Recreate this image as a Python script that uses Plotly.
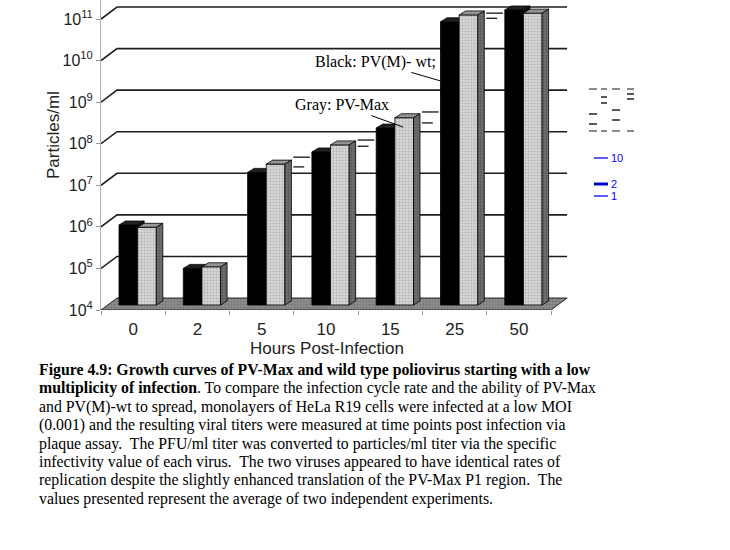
import numpy as np
import plotly.graph_objects as go

# --- data ---
hours = ['0', '2', '5', '10', '15', '25', '50']
pv_wt = [8.4e5, 7.6e4, 1.55e7, 4.8e7, 1.8e8, 6.5e10, 1.25e11]    # black bars
pv_max = [7.4e5, 8.3e4, 2.45e7, 7.1e7, 3.2e8, 9.5e10, 1.05e11]   # gray bars
err_hi = [None, None, 3.6e7, 9.3e7, 4.4e8, 1.05e11, None]
err_lo = [None, None, 2.1e7, 6.6e7, 2.4e8, 7.9e10, None]
y_tickvals = [1e4, 1e5, 1e6, 1e7, 1e8, 1e9, 1e10, 1e11]
y_ticktext = ['10<sup>%d</sup>' % k for k in range(4, 12)]

caption = [
    '<b>Figure 4.9: Growth curves of PV-Max and wild type poliovirus starting with a low</b>',
    '<b>multiplicity of infection</b>. To compare the infection cycle rate and the ability of PV-Max',
    'and PV(M)-wt to spread, monolayers of HeLa R19 cells were infected at a low MOI',
    '(0.001) and the resulting viral titers were measured at time points post infection via',
    'plaque assay.  The PFU/ml titer was converted to particles/ml titer via the specific',
    'infectivity value of each virus.  The two viruses appeared to have identical rates of',
    'replication despite the slightly enhanced translation of the PV-Max P1 region.  The',
    'values presented represent the average of two independent experiments.',
]

SANS = 'Liberation Sans, Arial, sans-serif'
SERIF = 'Liberation Serif, Times New Roman, serif'

# --- plot geometry (pixels of the 730x550 page) ---
L, R, T, B = 101, 570, 0, 310
CAT = 64.3      # px per category
DEC = 41.57     # px per decade
x_range = [-0.5, -0.5 + (R - L) / CAT]
y_range = [4, 4 + (B - T) / DEC]
DX, DY = 16 / CAT, 12 / DEC      # depth of floor / back grid
BX, BY = 4.5 / CAT, 5 / DEC      # front plane of the bars
SX, SY = 6.5 / CAT, 4 / DEC      # thickness of the bars
W = 0.29


def px_x(p):
    return (p - L) / (R - L)


def px_y(p):
    return (B - p) / (B - T)


def collect(polys):
    xs, ys = [], []
    for px, pe in polys:
        xs += px + [None]
        ys += [10 ** e for e in pe] + [None]
    return xs, ys


def face_trace(polys, color, dots):
    xs, ys = collect(polys)
    return go.Scatter(
        x=xs, y=ys, mode='lines', fill='toself', fillcolor=color,
        fillpattern=dict(shape='.', bgcolor=color, fgcolor=dots, size=3, solidity=0.35),
        line=dict(color='black', width=0.8), hoverinfo='skip', showlegend=False)


def bar_faces(x0, x1, v):
    e0 = 4 + BY
    e1 = np.log10(v) + BY
    front = ([x0, x1, x1, x0, x0], [e0, e0, e1, e1, e0])
    top = ([x0, x1, x1 + SX, x0 + SX, x0], [e1, e1, e1 + SY, e1 + SY, e1])
    side = ([x1, x1 + SX, x1 + SX, x1, x1], [e0, e0 + SY, e1 + SY, e1, e0])
    return front, top, side


fig = go.Figure()

# back grid lines (one per decade), running in from the front axis
for k in range(5, 12):
    fig.add_trace(go.Scatter(
        x=[-0.5, -0.5 + DX, 6.5 + DX], y=[10 ** k, 10 ** (k + DY), 10 ** (k + DY)],
        mode='lines', line=dict(color='#1e1e1e', width=1.6),
        hoverinfo='skip', showlegend=False))

# floor
fig.add_trace(face_trace([([-0.5, 6.5, 6.5 + DX, -0.5 + DX, -0.5], [4, 4, 4 + DY, 4 + DY, 4])],
                         '#8e8e8e', '#5a5a5a'))

blk = {'front': [], 'top': [], 'side': []}
gry = {'front': [], 'top': [], 'side': []}
for i in range(len(hours)):
    f, t, s = bar_faces(i - W + BX, i + BX, pv_wt[i])
    blk['front'].append(f); blk['top'].append(t); blk['side'].append(s)
    f, t, s = bar_faces(i + BX, i + W + BX, pv_max[i])
    gry['front'].append(f); gry['top'].append(t); gry['side'].append(s)

fig.add_trace(face_trace(blk['side'], '#111111', '#111111'))
fig.add_trace(face_trace(blk['front'], '#000000', '#000000'))
fig.add_trace(face_trace(blk['top'], '#202020', '#202020'))
fig.add_trace(face_trace(gry['front'], '#d6d6d6', '#8f8f8f'))
fig.add_trace(face_trace(gry['top'], '#9c9c9c', '#6a6a6a'))
fig.add_trace(face_trace(gry['side'], '#6e6e6e', '#3c3c3c'))

# error marks to the right of the gray bars
ex, ey = [], []
for i in range(len(hours)):
    if err_hi[i] is None:
        continue
    x0 = i + W + BX + SX + 0.03
    ex += [x0, x0 + 0.26, None, x0, x0 + 0.17, None]
    ey += [10 ** (np.log10(err_hi[i]) + BY)] * 2 + [None]
    ey += [10 ** (np.log10(err_lo[i]) + BY)] * 2 + [None]
fig.add_trace(go.Scatter(x=ex, y=ey, mode='lines', line=dict(color='black', width=1.2),
                         hoverinfo='skip', showlegend=False))

annotations = [
    dict(text='Particles/ml', xref='paper', yref='paper', x=px_x(54), y=px_y(135),
         xanchor='center', yanchor='middle',
         textangle=-90, showarrow=False, font=dict(family=SANS, size=17, color='#222')),
    dict(text='Hours Post-Infection', xref='paper', yref='paper', x=px_x(327), y=px_y(337),
         xanchor='center', yanchor='top', showarrow=False,
         font=dict(family=SANS, size=17, color='#222')),
    dict(text='Black: PV(M)- wt;', x=5 - W + BX, y=9.51, ax=-65, ay=-19,
         showarrow=True, arrowhead=0, arrowwidth=1, arrowcolor='black', standoff=0,
         font=dict(family=SERIF, size=16, color='black')),
    dict(text='Gray: PV-Max', x=4.2, y=8.40, ax=-61, ay=-22,
         showarrow=True, arrowhead=0, arrowwidth=1, arrowcolor='black', standoff=0,
         font=dict(family=SERIF, size=16, color='black')),
]

cap_y = [370, 388.4, 406.8, 425.2, 443.6, 462, 480.4, 498.8]
for line, yc in zip(caption, cap_y):
    annotations.append(dict(text=line, xref='paper', yref='paper', x=px_x(37), y=px_y(yc),
                            xanchor='left', yanchor='middle', showarrow=False,
                            font=dict(family=SERIF, size=15.8, color='black')))

# stray legend fragments at the right of the original figure
shapes = []
for x0, x1, yy, col, wd in [
        (589, 597, 89, '#8a8a8a', 2), (601, 607, 89, '#8a8a8a', 2), (612, 620, 89, '#8a8a8a', 2),
        (627, 634, 89, '#8a8a8a', 2), (589, 597, 131, '#8a8a8a', 2), (601, 607, 131, '#8a8a8a', 2),
        (612, 620, 131, '#8a8a8a', 2), (627, 634, 131, '#8a8a8a', 2),
        (601, 607, 97, 'black', 1.3), (601, 607, 103, 'black', 1.3), (627, 634, 94, 'black', 1.3),
        (627, 634, 99, 'black', 1.3), (589, 597, 114, 'black', 1.3), (589, 597, 124, 'black', 1.3),
        (612, 620, 110, 'black', 1.3), (612, 620, 120, 'black', 1.3),
        (594, 608, 158, '#0000ff', 1.3), (594, 608, 184, '#0000cc', 3), (594, 608, 196, '#0000ff', 1.3)]:
    shapes.append(dict(type='line', xref='paper', yref='paper', x0=px_x(x0), x1=px_x(x1),
                       y0=px_y(yy), y1=px_y(yy), line=dict(color=col, width=wd)))
for lab, yy in [('10', 158), ('2', 184), ('1', 196)]:
    annotations.append(dict(text=lab, xref='paper', yref='paper', x=px_x(609), y=px_y(yy),
                            xanchor='left', yanchor='middle', showarrow=False,
                            font=dict(family=SANS, size=11, color='#0000ff')))

fig.update_layout(
    width=730, height=550,
    margin=dict(l=L, r=730 - R, t=T, b=550 - B, pad=0),
    paper_bgcolor='white', plot_bgcolor='white',
    showlegend=False,
    annotations=annotations,
    shapes=shapes,
    xaxis=dict(range=x_range, showgrid=False, zeroline=False, showline=False,
               tickmode='array', tickvals=list(range(len(hours))), ticktext=hours, ticks='',
               ticklabelstandoff=7,
               tickfont=dict(family=SANS, size=17, color='#222'),
               minor=dict(tickmode='array', tickvals=[i - 0.5 for i in range(len(hours) + 1)],
                          ticks='outside', ticklen=4, tickcolor='#999', showgrid=False)),
    yaxis=dict(type='log', range=y_range, showgrid=False, zeroline=False,
               showline=True, linecolor='#b0b0b0', linewidth=1,
               tickmode='array', tickvals=y_tickvals, ticktext=y_ticktext,
               ticks='outside', ticklen=4, tickcolor='#999',
               tickfont=dict(family=SANS, size=16, color='#222')),
)

fig.write_html("out.html", config={'displayModeBar': False},
               post_script="document.body.style.margin = '0px';")
